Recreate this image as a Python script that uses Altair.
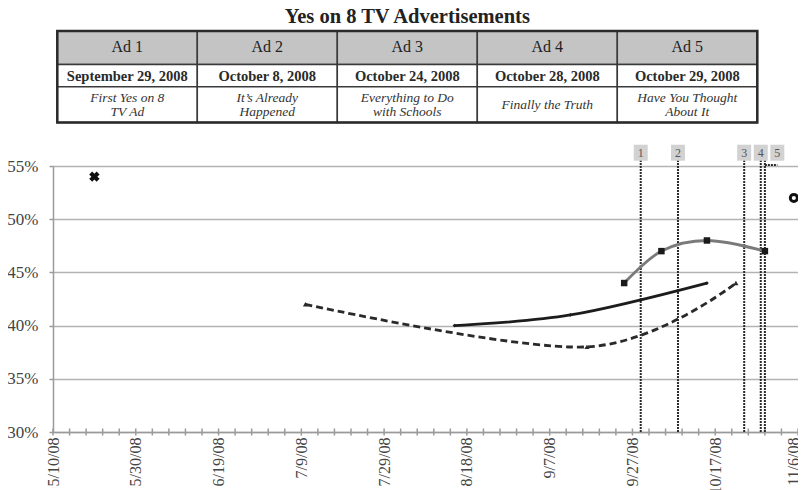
import altair as alt
import pandas as pd

SERIF = "Liberation Serif"

# ---------------- data ----------------
TITLE = "Yes on 8 TV Advertisements"
ad_nums = [1, 2, 3, 4, 5]
ad_headers = ["Ad 1", "Ad 2", "Ad 3", "Ad 4", "Ad 5"]
ad_date_text = ["September 29, 2008", "October 8, 2008", "October 24, 2008",
                "October 28, 2008", "October 29, 2008"]
ad_titles = [["First Yes on 8", "TV Ad"], ["It\u2019s Already", "Happened"],
             ["Everything to Do", "with Schools"], ["Finally the Truth"],
             ["Have You Thought", "About It"]]
ad_dates = ["2008-09-29", "2008-10-08", "2008-10-24", "2008-10-28", "2008-10-29"]
ad_label_dates = ["2008-09-29", "2008-10-08", "2008-10-24", "2008-10-28", "2008-11-01"]

gray_dates = ["2008-09-25", "2008-10-04", "2008-10-15", "2008-10-29"]
gray_vals = [44, 47, 48, 47]
solid_dates = ["2008-08-15", "2008-09-12", "2008-10-15"]
solid_vals = [40, 41, 44]
dashed_dates = ["2008-07-10", "2008-09-16", "2008-10-22"]
dashed_vals = [42, 38, 44]
x_marker_date = ["2008-05-20"]
x_marker_val = [54]
o_marker_date = ["2008-11-05"]
o_marker_val = [52]

y_ticks = [30, 35, 40, 45, 50, 55]
minor_tick_dates = pd.date_range("2008-05-10", "2008-11-06", freq="4D")
label_dates = pd.date_range("2008-05-10", "2008-11-06", freq="20D")

# ---------------- layout (pixels) ----------------
PW, PH = 745, 266
PLOT_LEFT, PLOT_TOP = 53, 166          # page position of plot origin
COL_W, TABLE_LEFT = 140, 57.3
ROW_EDGES = [31, 64.5, 86.7, 122.5]
TITLE_BASE, HEAD_BASE, DATE_BASE, DESC_MID, DESC_LH = 22.5, 52, 80.5, 104.6, 13.5

# ---------------- table layers (own scales, page-like units) ----------------
d0 = -(TABLE_LEFT - PLOT_LEFT) / COL_W
tx = alt.Scale(domain=[d0, d0 + PW / COL_W], nice=False, zero=False)
ty = alt.Scale(domain=[PLOT_TOP, PLOT_TOP + PH], reverse=True, nice=False, zero=False)

cells = []
for i in range(5):
    for r in range(3):
        cells.append({"c0": i, "c1": i + 1, "r0": ROW_EDGES[r], "r1": ROW_EDGES[r + 1],
                      "fill": "#c4c4c4" if r == 0 else "#ffffff"})
cells_df = pd.DataFrame(cells)
ads_df = pd.DataFrame({"cx": [i + 0.5 for i in range(5)], "head": ad_headers, "when": ad_date_text})
desc_rows = []
for i, lines in enumerate(ad_titles):
    n = len(lines)
    for k, ln in enumerate(lines):
        desc_rows.append({"cx": i + 0.5, "line": ln, "yb": DESC_MID + (k - (n - 1) / 2) * DESC_LH + 4.6})
desc_df = pd.DataFrame(desc_rows)

TX = lambda f: alt.X(f, type="quantitative", scale=tx, axis=None)
TY = lambda f: alt.Y(f, type="quantitative", scale=ty, axis=None)

cell_layer = alt.Chart(cells_df).mark_rect(stroke="#3a3a3a", strokeWidth=1.5).encode(
    x=TX("c0"), x2="c1:Q", y=TY("r0"), y2="r1:Q", fill=alt.Fill("fill:N", scale=None))
outer = alt.Chart(pd.DataFrame({"c0": [0], "c1": [5], "r0": [ROW_EDGES[0]], "r1": [ROW_EDGES[3]]})).mark_rect(
    fill=None, stroke="#2a2a2a", strokeWidth=2.5).encode(x=TX("c0"), x2="c1:Q", y=TY("r0"), y2="r1:Q")
head_txt = alt.Chart(ads_df).mark_text(font=SERIF, fontSize=16, color="#222", baseline="alphabetic").encode(
    x=TX("cx"), y=alt.datum(HEAD_BASE, scale=ty, axis=None), text="head:N")
date_txt = alt.Chart(ads_df).mark_text(font=SERIF, fontSize=14.5, fontWeight="bold", color="#2a2a2a",
                                       baseline="alphabetic").encode(
    x=TX("cx"), y=alt.datum(DATE_BASE, scale=ty, axis=None), text="when:N")
desc_txt = alt.Chart(desc_df).mark_text(font=SERIF, fontSize=13.5, fontStyle="italic", color="#333",
                                        baseline="alphabetic").encode(
    x=TX("cx"), y=TY("yb"), text="line:N")
title_txt = alt.Chart(pd.DataFrame({"t": [TITLE], "cx": [2.5]})).mark_text(
    font=SERIF, fontSize=20.5, fontWeight="bold", color="#222", baseline="alphabetic").encode(
    x=TX("cx"), y=alt.datum(TITLE_BASE, scale=ty, axis=None), text="t:N")

table = alt.layer(cell_layer, outer, head_txt, date_txt, desc_txt, title_txt)

# ---------------- plot layers ----------------
xscale = alt.Scale(domain=[alt.DateTime(year=2008, month=5, date=10),
                           alt.DateTime(year=2008, month=11, date=6)], nice=False)
xaxis = alt.Axis(orient="bottom",
                 values=[alt.DateTime(year=d.year, month=d.month, date=d.day) for d in label_dates],
                 format="%-m/%-d/%y", labelAngle=270, tickSize=0, grid=False, title=None,
                 domainColor="#9a9a9a", domainWidth=1.5, labelFont=SERIF, labelFontSize=16,
                 labelColor="#444", labelPadding=5, labelOverlap=False, labelFlush=False,
                 labelBaseline={"condition": {"test": "datum.value > datetime(2008, 10, 1)",
                                              "value": "alphabetic"},
                                "value": "middle"})
yscale = alt.Scale(domain=[30, 55], nice=False, zero=False)
yaxis = alt.Axis(orient="left", values=y_ticks, labelExpr="datum.value + '%'", grid=True,
                 gridColor="#b3b3b3", gridWidth=1.5, domainColor="#9a9a9a", domainWidth=1.5,
                 tickColor="#9a9a9a", tickWidth=1.5, tickSize=4, labelPadding=11, labelFont=SERIF,
                 labelFontSize=17, labelColor="#444", title=None)


def X(field):
    return alt.X(field, type="temporal", scale=xscale, axis=xaxis)


def Y(field):
    return alt.Y(field, type="quantitative", scale=yscale, axis=yaxis)


ticks_df = pd.DataFrame({"date": minor_tick_dates})
ads_plot_df = pd.DataFrame({"date": pd.to_datetime(ad_dates), "ldate": pd.to_datetime(ad_label_dates),
                            "num": [str(n) for n in ad_nums]})
lines_df = pd.DataFrame({
    "date": pd.to_datetime(gray_dates + solid_dates + dashed_dates),
    "val": gray_vals + solid_vals + dashed_vals,
    "series": ["gray"] * len(gray_vals) + ["solid"] * len(solid_vals) + ["dashed"] * len(dashed_vals)})

minor = alt.Chart(ticks_df).mark_rule(color="#9a9a9a", strokeWidth=1.5).encode(
    x=X("date"), y=alt.value(PH - 3.5), y2=alt.value(PH + 3.5))
ad_rules = alt.Chart(ads_plot_df).mark_rule(color="#2a2a2a", strokeWidth=2, strokeDash=[2, 1]).encode(
    x=X("date"), y=alt.datum(30, scale=yscale, axis=yaxis), y2=alt.datum(55.55))
connector = alt.Chart(ads_plot_df.iloc[[4]]).mark_rule(color="#2a2a2a", strokeWidth=2, strokeDash=[2, 1]).encode(
    x=X("date"), x2="ldate:T", y=alt.datum(55.1, scale=yscale, axis=yaxis))
boxes = alt.Chart(ads_plot_df).mark_rect(width=14, height=16, color="#d2d2d2").encode(
    x=X("ldate"), y=alt.datum(56.25, scale=yscale, axis=yaxis))
box_txt = alt.Chart(ads_plot_df).mark_text(font=SERIF, fontSize=12, color="#555").encode(
    x=X("ldate"), y=alt.datum(56.25, scale=yscale, axis=yaxis), text="num:N")

gray = lines_df[lines_df.series == "gray"]
solid = lines_df[lines_df.series == "solid"]
dashed = lines_df[lines_df.series == "dashed"]

gray_line = alt.Chart(gray).mark_line(interpolate="cardinal", color="#7a7a7a", strokeWidth=2.8).encode(
    x=X("date"), y=Y("val"))
gray_pts = alt.Chart(gray).mark_point(shape="square", filled=True, size=42, color="#1a1a1a", opacity=1).encode(
    x=X("date"), y=Y("val"))
solid_line = alt.Chart(solid).mark_line(interpolate="cardinal", color="#1c1c1c", strokeWidth=2.8).encode(
    x=X("date"), y=Y("val"))
solid_pts = alt.Chart(solid).mark_point(shape="diamond", filled=True, size=14, color="#1c1c1c", opacity=1).encode(
    x=X("date"), y=Y("val"))
dashed_line = alt.Chart(dashed).mark_line(interpolate="cardinal", color="#2a2a2a", strokeWidth=2.8,
                                          strokeDash=[7, 4]).encode(x=X("date"), y=Y("val"))
dashed_pts = alt.Chart(dashed).mark_point(shape="triangle-up", filled=True, size=26, color="#2a2a2a", opacity=1).encode(
    x=X("date"), y=Y("val"))

xm = alt.Chart(pd.DataFrame({"date": pd.to_datetime(x_marker_date), "val": x_marker_val})).mark_point(
    shape="cross", angle=45, filled=True, size=110, color="#111", opacity=1).encode(x=X("date"), y=Y("val"))
om = alt.Chart(pd.DataFrame({"date": pd.to_datetime(o_marker_date), "val": o_marker_val})).mark_point(
    shape="circle", filled=False, strokeWidth=3, size=50, color="#111", opacity=1).encode(x=X("date"), y=Y("val"))

plot = alt.layer(minor, ad_rules, connector, boxes, box_txt, gray_line, solid_line, dashed_line,
                 gray_pts, solid_pts, dashed_pts, xm, om)

chart = alt.layer(plot, table).resolve_scale(x="independent", y="independent").properties(
    width=PW, height=PH,
    autosize=alt.AutoSizeParams(type="none"),
    padding={"left": PLOT_LEFT - 8, "top": PLOT_TOP - 8, "right": 0, "bottom": 60},
).configure_view(strokeWidth=0).configure(background="white")

chart.save("out.html", embed_options={"renderer": "svg", "actions": False})
